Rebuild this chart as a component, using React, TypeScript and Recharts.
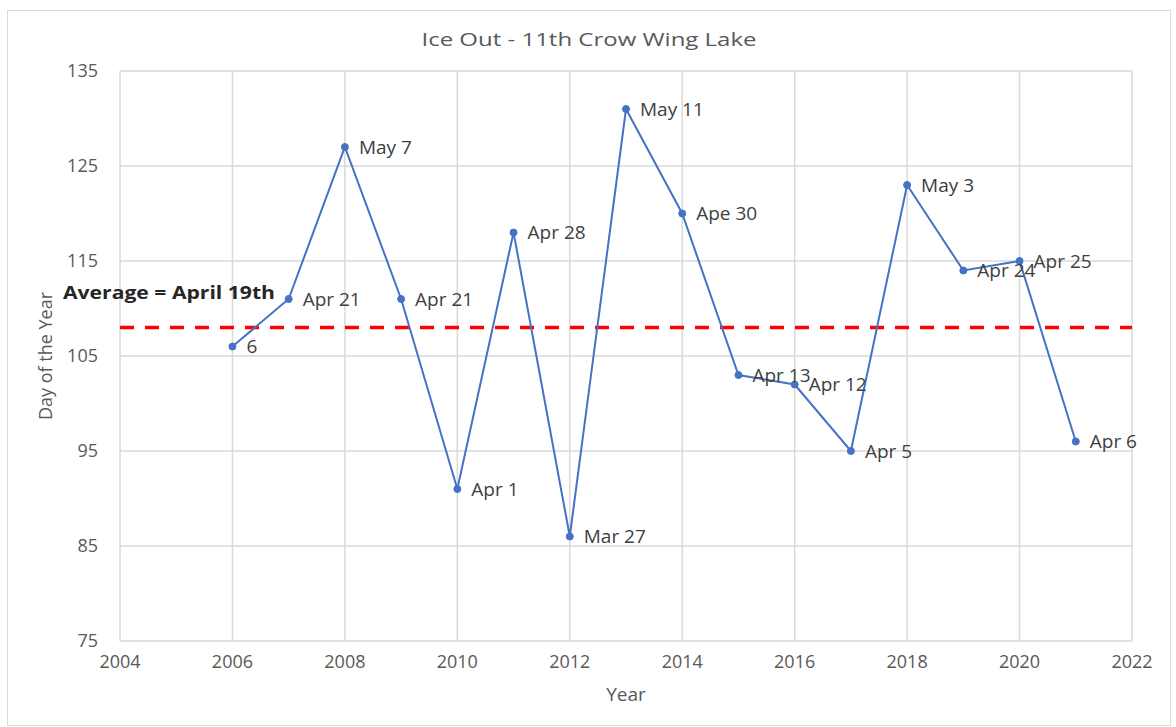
import React from "react";
import {
  LineChart,
  Line,
  XAxis,
  YAxis,
  CartesianGrid,
  ReferenceLine,
  LabelList,
} from "recharts";

const years = [2006, 2007, 2008, 2009, 2010, 2011, 2012, 2013, 2014, 2015, 2016, 2017, 2018, 2019, 2020, 2021];
const dayOfYear = [106, 111, 127, 111, 91, 118, 86, 131, 120, 103, 102, 95, 123, 114, 115, 96];
const dateLabels = [
  "6", "Apr 21", "May 7", "Apr 21", "Apr 1", "Apr 28", "Mar 27", "May 11",
  "Ape 30", "Apr 13", "Apr 12", "Apr 5", "May 3", "Apr 24", "Apr 25", "Apr 6",
];
const xTicks = [2004, 2006, 2008, 2010, 2012, 2014, 2016, 2018, 2020, 2022];
const yTicks = [75, 85, 95, 105, 115, 125, 135];
const averageDay = 108;

const data = years.map((year, i) => ({
  year,
  day: dayOfYear[i],
  label: dateLabels[i],
}));

const FONT = "'Open Sans', sans-serif";
const GRAY = "#595959";

const AverageLabel = (props: any) => {
  const { viewBox } = props;
  return (
    <text
      x={viewBox.x - 57}
      y={viewBox.y - 29}
      fill="#262626"
      fontSize={18}
      fontWeight={700}
      fontFamily={FONT}
      textLength={212}
      lengthAdjust="spacingAndGlyphs"
    >
      Average = April 19th
    </text>
  );
};

export default function App() {
  return (
    <div
      style={{
        position: "absolute",
        left: 7,
        top: 10,
        width: 1162,
        height: 714,
        border: "1px solid #d9d9d9",
        background: "#fff",
        fontFamily: FONT,
      }}
    >
      <svg
        width={1162}
        height={60}
        style={{ position: "absolute", left: 0, top: 0 }}
      >
        <text
          x={581}
          y={35}
          textAnchor="middle"
          fill={GRAY}
          fontSize={19}
          fontFamily={FONT}
          textLength={335}
          lengthAdjust="spacingAndGlyphs"
        >
          Ice Out - 11th Crow Wing Lake
        </text>
      </svg>
      <LineChart
        width={1162}
        height={714}
        data={data}
        margin={{ top: 60, right: 38, left: 52, bottom: 54 }}
      >
        <CartesianGrid stroke="#d9d9d9" strokeWidth={1.5} />
        <XAxis
          dataKey="year"
          type="number"
          domain={[2004, 2022]}
          ticks={xTicks}
          axisLine={false}
          tickLine={false}
          tickSize={0}
          tickMargin={14}
          height={30}
          tick={{ fontSize: 18, fill: GRAY, fontFamily: FONT }}
          label={{
            value: "Year",
            position: "insideBottom",
            offset: -30,
            style: { fontSize: 19, fill: GRAY, fontFamily: FONT },
          }}
        />
        <YAxis
          type="number"
          domain={[75, 135]}
          ticks={yTicks}
          axisLine={false}
          tickLine={false}
          tickSize={0}
          tickMargin={22}
          width={60}
          tick={{ fontSize: 18, fill: GRAY, fontFamily: FONT }}
          label={{
            value: "Day of the Year",
            angle: -90,
            position: "insideLeft",
            offset: -14,
            style: { textAnchor: "middle", fontSize: 18, fill: GRAY, fontFamily: FONT },
          }}
        />
        <ReferenceLine
          y={averageDay}
          stroke="#ff0000"
          strokeWidth={3.5}
          strokeDasharray="14 11"
          label={<AverageLabel />}
        />
        <Line
          dataKey="day"
          stroke="#4472c4"
          strokeWidth={2}
          dot={{ r: 3.5, fill: "#4472c4", stroke: "#4472c4", strokeWidth: 1 }}
          isAnimationActive={false}
        >
          <LabelList
            dataKey="label"
            position="right"
            offset={14}
            style={{ fontSize: 19, fill: "#404040", fontFamily: FONT }}
          />
        </Line>
      </LineChart>
    </div>
  );
}
